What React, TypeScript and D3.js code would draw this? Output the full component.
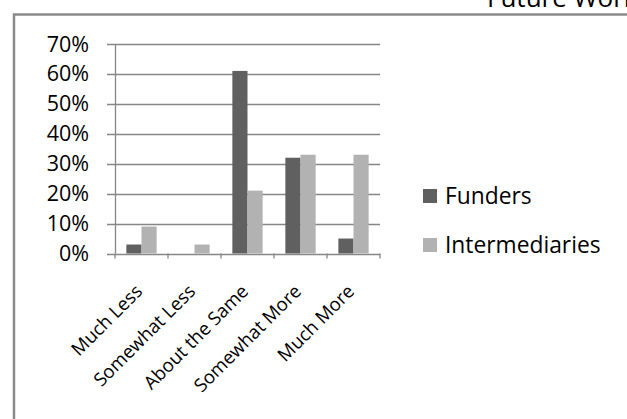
import React, { useEffect, useRef } from "react";
import * as d3 from "d3";

const categories = ["Much Less", "Somewhat Less", "About the Same", "Somewhat More", "Much More"];
const seriesNames = ["Funders", "Intermediaries"];
const funders = [0.03, 0, 0.61, 0.32, 0.05];
const intermediaries = [0.09, 0.03, 0.21, 0.33, 0.33];
const yTicks = [0, 0.1, 0.2, 0.3, 0.4, 0.5, 0.6, 0.7];
const colors = ["#606060", "#b2b2b2"];
const titleText = "Future Work";

const W = 627;
const H = 419;
const FONT = "'Open Sans', 'Liberation Sans', sans-serif";

export default function App() {
  const ref = useRef<SVGSVGElement>(null);
  useEffect(() => {
    document.body.style.margin = "0";
    const svg = d3.select(ref.current);
    svg.selectAll("*").remove();

    const left = 115, right = 380, top = 44, bottom = 253.5;
    const x = d3.scaleBand().domain(categories).range([left, right]).paddingInner(0).paddingOuter(0);
    const y = d3.scaleLinear().domain([0, 0.7]).range([bottom, top]);
    const inner = d3.scaleBand().domain(seriesNames).range([0, x.bandwidth()]).paddingInner(0).paddingOuter(0.75);

    svg.append("rect").attr("width", W).attr("height", H).attr("fill", "#fff");

    // title (clipped at the top, as in the reference)
    svg.append("text").attr("x", 487).attr("y", 7).attr("font-family", FONT).attr("font-size", 26)
      .attr("fill", "#000").text(titleText);

    // chart frame
    svg.append("path").attr("d", `M14,${H + 5} L14,14.5 L${W + 5},14.5`).attr("fill", "none")
      .attr("stroke", "#8a8a8a").attr("stroke-width", 2.5);

    // gridlines + ticks
    const g = svg.append("g");
    g.selectAll("line.grid").data(yTicks.slice(1)).join("line")
      .attr("x1", 107).attr("x2", right).attr("y1", (d) => Math.round(y(d)) + 0.5).attr("y2", (d) => Math.round(y(d)) + 0.5)
      .attr("stroke", "#868686").attr("stroke-width", 1.3);
    g.append("line").attr("x1", 107).attr("x2", right).attr("y1", Math.round(bottom) + 0.5).attr("y2", Math.round(bottom) + 0.5)
      .attr("stroke", "#868686").attr("stroke-width", 1.3);

    // y labels
    g.selectAll("text.yl").data(yTicks).join("text")
      .attr("x", 89).attr("y", (d) => y(d) + 7.5).attr("text-anchor", "end")
      .attr("font-family", FONT).attr("font-size", 21.5).attr("fill", "#000")
      .text((d) => d3.format(".0%")(d));

    // bars
    const data = [funders, intermediaries];
    data.forEach((vals, si) => {
      g.selectAll(`rect.s${si}`).data(vals).join("rect")
        .attr("x", (d, i) => (x(categories[i]) as number) + (inner(seriesNames[si]) as number))
        .attr("width", inner.bandwidth())
        .attr("y", (d) => y(d))
        .attr("height", (d) => bottom - y(d))
        .attr("fill", colors[si]);
    });

    // y axis line
    g.append("line").attr("x1", left + 0.5).attr("x2", left + 0.5).attr("y1", top).attr("y2", bottom)
      .attr("stroke", "#868686").attr("stroke-width", 1.3);

    // x ticks
    const xt = categories.map((c) => x(c) as number).concat([right]);
    g.selectAll("line.xt").data(xt).join("line")
      .attr("x1", (d) => d).attr("x2", (d) => d).attr("y1", bottom).attr("y2", bottom + 5)
      .attr("stroke", "#868686").attr("stroke-width", 1.3);

    // x labels
    g.selectAll("text.xl").data(categories).join("text")
      .attr("transform", (d) => `translate(${(x(d) as number) + x.bandwidth() / 2 + 2},${bottom + 39}) rotate(-45)`)
      .attr("text-anchor", "end")
      .attr("font-family", FONT).attr("font-size", 18.6).attr("fill", "#000")
      .text((d) => d);

    // legend
    const lg = svg.append("g");
    seriesNames.forEach((s, i) => {
      const ly = 189 + i * 49;
      lg.append("rect").attr("x", 423).attr("y", ly).attr("width", 14).attr("height", 14).attr("fill", colors[i]);
      lg.append("text").attr("x", 445).attr("y", ly + 14.5).attr("font-family", FONT).attr("font-size", 22.8)
        .attr("fill", "#000").text(s);
    });
  }, []);
  return <svg ref={ref} width={W} height={H} style={{ display: "block" }} />;
}
